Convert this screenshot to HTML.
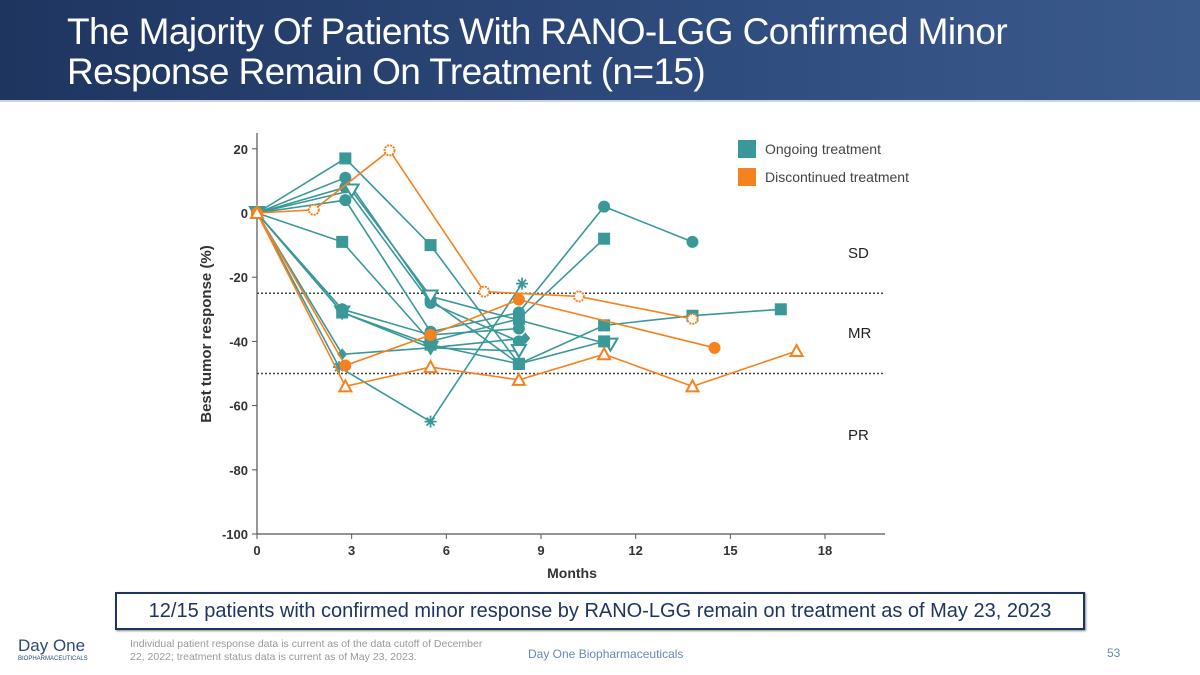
<!DOCTYPE html>
<html><head><meta charset="utf-8"><style>
body{margin:0;width:1200px;height:675px;overflow:hidden;background:#fff;font-family:"Liberation Sans",sans-serif;position:relative}
#hdr{position:absolute;left:0;top:0;width:1200px;height:100px;background:linear-gradient(90deg,#1f3560,#2f4c7e 60%,#3b5a8c);border-bottom:2px solid #c9d3e3}
#title{position:absolute;left:67px;top:12px;color:#fff;font-size:37px;line-height:40px;letter-spacing:-0.6px}
#callout{position:absolute;left:115px;top:592px;width:966px;height:34px;border:2px solid #1f3560;font-size:20px;color:#1f3560;text-align:center;line-height:34px;box-shadow:1px 1px 2px #888}
.foot{position:absolute;font-size:11px;color:#999}
</style></head><body>
<div id="hdr"><div id="title">The Majority Of Patients With RANO-LGG Confirmed Minor<br>Response Remain On Treatment (n=15)</div></div>
<svg id="chart" width="1200" height="675" style="position:absolute;left:0;top:0"></svg>
<div id="callout">12/15 patients with confirmed minor response by RANO-LGG remain on treatment as of May 23, 2023</div>
<div class="foot" style="left:18px;top:636px;color:#2a4a7a;font-size:17px">Day One<div style="font-size:6px;color:#2a4a7a">BIOPHARMACEUTICALS</div></div>
<div class="foot" style="left:130px;top:638px;width:360px;line-height:13px;font-size:10.5px">Individual patient response data is current as of the data cutoff of December 22, 2022; treatment status data is current as of May 23, 2023.</div>
<div class="foot" style="left:528px;top:647px;color:#6a86b8;font-size:12px">Day One Biopharmaceuticals</div>
<div class="foot" style="left:1107px;top:646px;color:#6a86b8;font-size:12px">53</div>
<script>
const xTicks=[0,3,6,9,12,15,18];
const yTicks=[20,0,-20,-40,-60,-80,-100];
const thresholds=[-25,-50];
const tealMonths=[[0,2.8,5.5,8.3,11,13.8,16.6],[0,2.7,5.5,8.3,11],[0,2.8,5.5,8.3],[0,2.8,5.5,8.3,11,13.8],[0,2.8,5.5,8.3],[0,3.0,5.5,11.2],[0,2.7,5.5,8.3],[0,2.7,5.5,8.3],[0,2.7,5.5,8.5],[0,2.6,5.5,8.4],[0,2.7,5.5,8.3,11]];
const tealValues=[[0,17,-10,-47,-35,-32,-30],[0,-9,-40,-33,-8],[0,11,-27,-47],[0,4,-37,-31,2,-9],[0,8,-28,-40],[0,7,-26,-41],[0,-30,-38,-36],[0,-31,-42,-43],[0,-44,-42,-39],[0,-48,-65,-22],[0,-31,-41,-47,-40]];
const tealShapes=['square','square','circle','circle','circle','tri','circle','tri','diamond','star','square'];
const orangeMonths=[[0,1.8,4.2,7.2,10.2,13.8],[0,2.8,5.5,8.3,14.5],[0,2.8,5.5,8.3,11,13.8,17.1]];
const orangeValues=[[0,1,19.5,-24.5,-26,-33],[0,-47.5,-38,-27,-42],[0,-54,-48,-52,-44,-54,-43]];
const orangeShapes=['hollowc','circle','otri'];
const TEAL='#3a9898',ORANGE='#f5821f';
const svg=document.getElementById('chart');const NS='http://www.w3.org/2000/svg';
const X=m=>257+m*(825-257)/18, Y=v=>213-v*(534-213)/100;
function mk(t,a,p){const e=document.createElementNS(NS,t);for(const k in a)e.setAttribute(k,a[k]);(p||svg).appendChild(e);return e;}
let g=mk('g',{});


mk('line',{x1:257,y1:133,x2:257,y2:534,stroke:'#555','stroke-width':1.2},g);
mk('line',{x1:257,y1:534,x2:885,y2:534,stroke:'#555','stroke-width':1.2},g);
yTicks.forEach(v=>{mk('line',{x1:252,x2:257,y1:Y(v),y2:Y(v),stroke:'#555'},g);const t=mk('text',{x:248,y:Y(v)+5,'text-anchor':'end','font-size':13,'font-weight':'bold',fill:'#333'},g);t.textContent=v;});
xTicks.forEach(v=>{mk('line',{x1:X(v),x2:X(v),y1:534,y2:539,stroke:'#555'},g);const t=mk('text',{x:X(v),y:555,'text-anchor':'middle','font-size':13,'font-weight':'bold',fill:'#333'},g);t.textContent=v;});
let t=mk('text',{x:572,y:578,'text-anchor':'middle','font-size':14,'font-weight':'bold',fill:'#333'});t.textContent='Months';


t=mk('text',{x:0,y:0,'text-anchor':'middle','font-size':15,'font-weight':'bold',fill:'#333',transform:'translate(211,334) rotate(-90)'});t.textContent='Best tumor response (%)';


thresholds.forEach(v=>{const l=mk('line',{x1:257,x2:885,y1:Y(v),y2:Y(v),stroke:'#444','stroke-width':1.6,'stroke-dasharray':'2 2'});});
[['SD',258],['MR',338],['PR',440]].forEach(([s,y])=>{const e=mk('text',{x:848,y:y,'font-size':15,fill:'#222'});e.textContent=s;});
function marker(shape,x,y,c,p){
 if(shape==='square')mk('rect',{x:x-6,y:y-6,width:12,height:12,fill:c},p);
 else if(shape==='circle')mk('circle',{cx:x,cy:y,r:6,fill:c},p);
 else if(shape==='hollowc')mk('circle',{cx:x,cy:y,r:5,fill:'#fff',stroke:c,'stroke-width':2,'stroke-dasharray':'2 1'},p);
 else if(shape==='tri')mk('polygon',{points:`${x-7},${y-6} ${x+7},${y-6} ${x},${y+6}`,fill:'#fff',stroke:c,'stroke-width':2},p);
 else if(shape==='otri')mk('polygon',{points:`${x-6},${y+5} ${x+6},${y+5} ${x},${y-6}`,fill:'#fff',stroke:c,'stroke-width':2},p);
 else if(shape==='diamond')mk('polygon',{points:`${x},${y-6} ${x+5},${y} ${x},${y+6} ${x-5},${y}`,fill:c},p);
 else {mk('path',{d:`M${x-6} ${y}H${x+6}M${x} ${y-6}V${y+6}M${x-4} ${y-4}L${x+4} ${y+4}M${x-4} ${y+4}L${x+4} ${y-4}`,stroke:c,'stroke-width':1.8},p);}
}
function series(ms,vs,shapes,c,name){ms.forEach((m,i)=>{const sg=mk('g',{});
 
 
 mk('polyline',{points:m.map((mm,j)=>X(mm)+','+Y(vs[i][j])).join(' '),fill:'none',stroke:c,'stroke-width':1.6},sg);
 m.forEach((mm,j)=>marker(shapes[i],X(mm),Y(vs[i][j]),c,sg));});}
series(tealMonths,tealValues,tealShapes,TEAL,'ongoing');
series(orangeMonths,orangeValues,orangeShapes,ORANGE,'discontinued');
[[TEAL,'Ongoing treatment',149],[ORANGE,'Discontinued treatment',177]].forEach(([c,s,y])=>{const lg=mk('g',{});mk('rect',{x:738,y:y-9,width:18,height:18,fill:c},lg);const e=mk('text',{x:765,y:y+5,'font-size':14,fill:'#444'},lg);e.textContent=s;});
</script>
</body></html>
